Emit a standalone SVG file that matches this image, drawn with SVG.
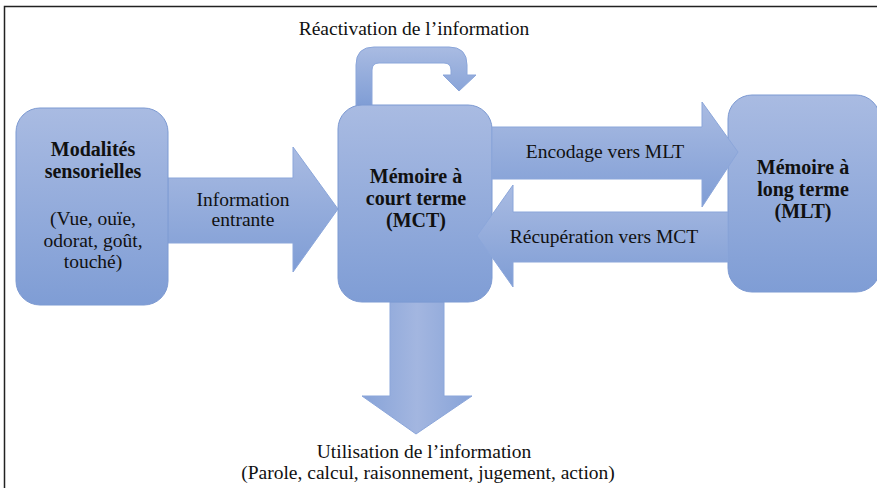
<svg xmlns="http://www.w3.org/2000/svg" width="877" height="488" viewBox="0 0 877 488">
<defs>
<linearGradient id="gv" x1="0" y1="0" x2="0" y2="1">
<stop offset="0" stop-color="#a9bbe2"/>
<stop offset="1" stop-color="#7f9dd5"/>
</linearGradient>
<linearGradient id="gh" x1="0" y1="0" x2="1" y2="0">
<stop offset="0" stop-color="#87a3d8"/>
<stop offset="0.5" stop-color="#a3b6e0"/>
<stop offset="1" stop-color="#87a3d8"/>
</linearGradient>
<style>
.box{fill:url(#gv);stroke:#7d9ad2;stroke-width:1}
.arr{fill:url(#gv);stroke:#8ba6da;stroke-width:1}
.arrh{fill:url(#gh);stroke:#8ba6da;stroke-width:1}
text{fill:#111;text-anchor:middle}
.t{font-size:19.5px}
.b{font-size:20px;font-weight:bold}
</style>
</defs>
<rect x="4.5" y="6.5" width="890" height="500" fill="#fff" stroke="#222" stroke-width="1.5"/>
<g id="connectors">
<path id="loop" class="arr" d="M356,106 L356,65 Q356,47 374,47 L449,47 Q467,47 467,65 L467,75 L476,75 L459,91 L443,75 L451,75 L451,70 Q451,63 444,63 L379,63 Q372,63 372,70 L372,106 Z"/>
<path id="in" class="arr" d="M168,178 L293,178 L293,147 L338,209 L293,272 L293,243 L168,243 Z"/>
<path id="down" class="arrh" d="M390,302 L444,302 L444,396 L472,396 L416,434 L362,396 L390,396 Z"/>
</g>
<g font-family="'Liberation Serif', 'DejaVu Serif', serif">
<g id="n-sens">
<rect class="box" x="16" y="108" width="152" height="197" rx="24"/>
<text class="b" x="93" y="156">Modalités</text>
<text class="b" x="93" y="178">sensorielles</text>
<text class="t" x="93" y="225">(Vue, ouïe,</text>
<text class="t" x="93" y="247">odorat, goût,</text>
<text class="t" x="93" y="268">touché)</text>
</g>
<g id="n-mct">
<rect class="box" x="338" y="105" width="154" height="197" rx="24"/>
<text class="b" x="416" y="183">Mémoire à</text>
<text class="b" x="416" y="205">court terme</text>
<text class="b" x="416" y="227">(MCT)</text>
</g>
<g id="n-mlt">
<rect class="box" x="728" y="95" width="152" height="197" rx="24"/>
<text class="b" x="803" y="174">Mémoire à</text>
<text class="b" x="803" y="196">long terme</text>
<text class="b" x="803" y="218">(MLT)</text>
</g>
<g id="connectors2">
<path id="enc" class="arr" d="M492,127 L702,127 L702,102 L738,152 L702,207 L702,179 L492,179 Z"/>
<path id="rec" class="arr" d="M728,212 L513,212 L513,185 L477,236 L513,287 L513,262 L728,262 Z"/>
</g>
<g id="labels">
<text class="t" x="414" y="35">Réactivation de l’information</text>
<text class="t" x="243" y="206">Information</text>
<text class="t" x="243" y="226">entrante</text>
<text class="t" x="605" y="158">Encodage vers MLT</text>
<text class="t" x="604" y="243">Récupération vers MCT</text>
<text class="t" x="424" y="458">Utilisation de l’information</text>
<text class="t" x="428" y="479">(Parole, calcul, raisonnement, jugement, action)</text>
</g>
</g>
</svg>
